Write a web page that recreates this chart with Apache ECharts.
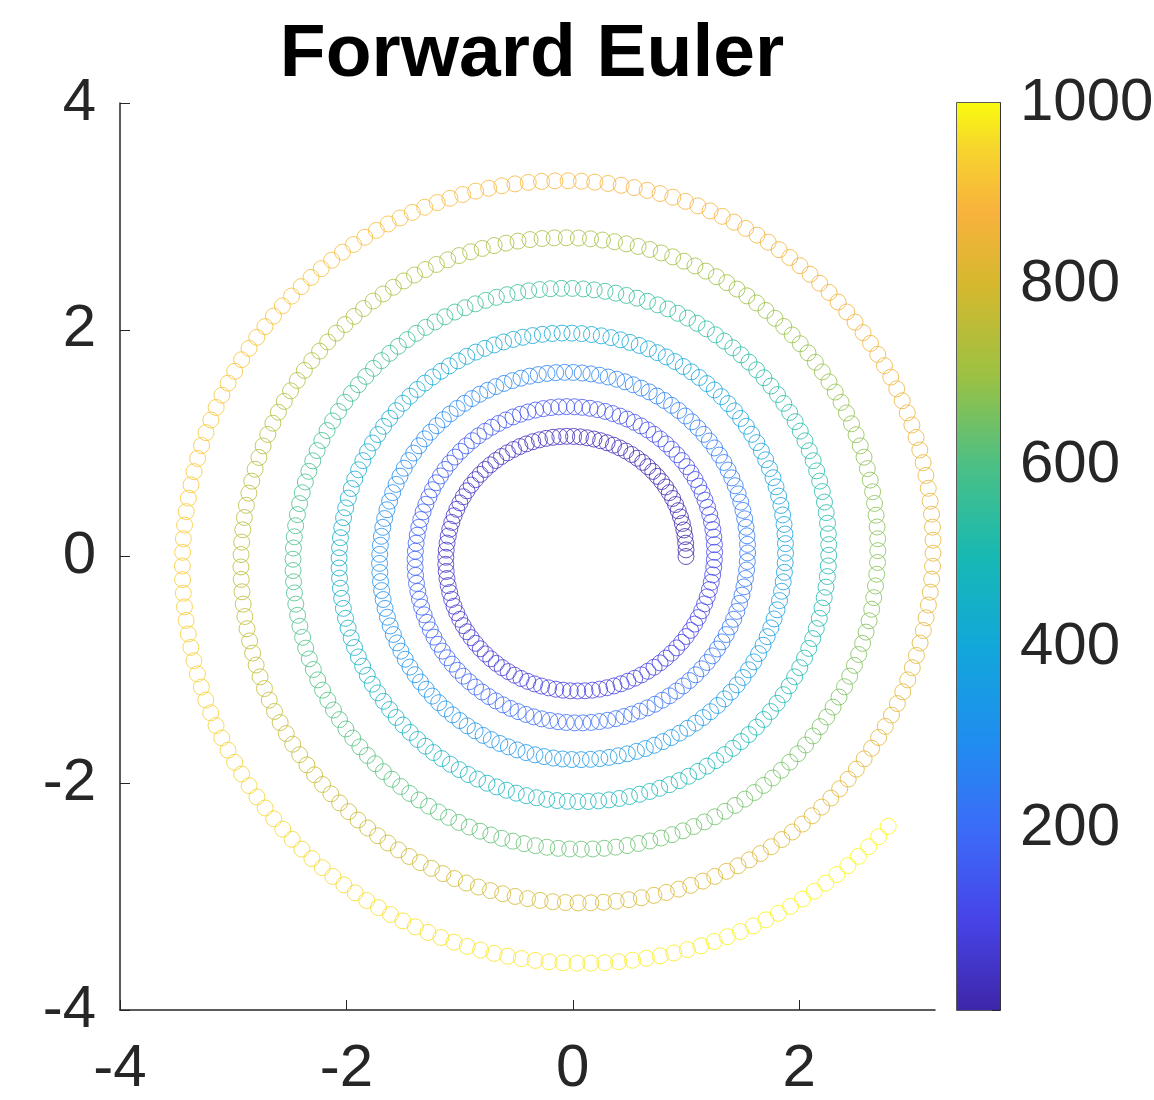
<!DOCTYPE html>
<html>
<head>
<meta charset="utf-8">
<title>Forward Euler</title>
<script src="https://cdn.jsdelivr.net/npm/echarts@6/dist/echarts.min.js"></script>
<style>
  html, body { margin: 0; background: #fff; }
  #chart { width: 1154px; height: 1100px; }
</style>
</head>
<body>
<div id="chart"></div>
<script>
// values: start of the spiral, step size, how the step
// grows with radius, and the drift outward
const startPoint = [1.0, 0.0]
const stepSize = [0.0587]
const stepGrowth = [0.58]
const outwardDrift = [0.0078]
const stepCount = [1000]
const xTicks = [-4, -2, 0, 2]
const yTicks = [-4, -2, 0, 2, 4]
const barTicks = [200, 400, 600, 800, 1000]

// parula colormap
const parula = [
  [0.00, '#3e26a8'], [0.10, '#4744e8'], [0.20, '#3b6cf8'], [0.30, '#1f8eef'],
  [0.40, '#12a7da'], [0.50, '#17b9b3'], [0.60, '#4bc085'], [0.70, '#9cc142'],
  [0.80, '#d6b82e'], [0.88, '#f8b23d'], [0.95, '#f6d52d'], [1.00, '#f9fb0e']
]

const hexToRgb = h => [1, 3, 5].map(i => parseInt(h.slice(i, i + 2), 16))
const parulaColor = t => {
  for (let i = 1; i < parula.length; i++) {
    if (t <= parula[i][0]) {
      const [t0, c0] = parula[i - 1], [t1, c1] = parula[i]
      const f = (t - t0) / (t1 - t0)
      const a = hexToRgb(c0), b = hexToRgb(c1)
      return 'rgb(' + a.map((v, j) => Math.round(v + (b[j] - v) * f)).join(',') + ')'
    }
  }
  return parula[parula.length - 1][1]
}

// forward Euler steps of the spiral
const points = []
let x = startPoint[0], y = startPoint[1]
const h = stepSize[0], q = stepGrowth[0], k = outwardDrift[0], n = stepCount[0]
for (let i = 1; i <= n; i++) {
  points.push({ value: [x, y, i], itemStyle: { borderColor: parulaColor((i - 1) / (n - 1)) } })
  const r = Math.hypot(x, y)
  const speed = Math.pow(r, q - 1)
  const dx = speed * (-y + k * x)
  const dy = speed * (x + k * y)
  x += h * dx
  y += h * dy
}

const ink = '#262626'
const font = 'Liberation Sans, Arial, Helvetica, sans-serif'

const chart = echarts.init(document.getElementById('chart'))
chart.setOption({
  animation: false,
  backgroundColor: '#fff',
  title: {
    text: 'Forward Euler',
    left: 527,
    top: 13,
    textAlign: 'center',
    textStyle: { fontSize: 75, fontWeight: 'bold', color: '#000', fontFamily: font }
  },
  grid: [
    { left: 120, top: 103, width: 815, height: 907, outerBoundsMode: 'none' },
    { left: 957, top: 103, width: 43, height: 907, outerBoundsMode: 'none',
      show: true, borderColor: ink, borderWidth: 1.5 }
  ],
  xAxis: [
    {
      gridIndex: 0, type: 'value', min: -4, max: 3.2, interval: 2,
      axisLine: { show: true, onZero: false, lineStyle: { color: ink, width: 1.5 } },
      axisTick: { show: true, inside: true, length: 10, lineStyle: { color: ink } },
      axisLabel: {
        margin: 29, fontSize: 60, color: ink, fontFamily: font,
        showMaxLabel: false,
        formatter: v => xTicks.includes(v) ? String(v) : ''
      },
      splitLine: { show: false }
    },
    { gridIndex: 1, type: 'category', data: ['c'], show: false }
  ],
  yAxis: [
    {
      gridIndex: 0, type: 'value', min: -4, max: 4, interval: 2,
      axisLine: { show: true, onZero: false, lineStyle: { color: ink, width: 1.5 } },
      axisTick: { show: true, inside: true, length: 10, lineStyle: { color: ink } },
      axisLabel: {
        margin: 24, fontSize: 60, color: ink, fontFamily: font,
        formatter: v => yTicks.includes(v) ? String(v) : ''
      },
      splitLine: { show: false }
    },
    {
      gridIndex: 1, type: 'value', position: 'right', min: 0, max: 1000, interval: 200,
      axisLine: { show: true, lineStyle: { color: ink, width: 1.5 } },
      axisTick: { show: true, inside: true, length: 8, lineStyle: { color: ink } },
      axisLabel: {
        margin: 20, fontSize: 60, color: ink, fontFamily: font,
        formatter: v => barTicks.includes(v) ? String(v) : ''
      },
      splitLine: { show: false }
    }
  ],
  series: [
    {
      type: 'scatter',
      xAxisIndex: 0, yAxisIndex: 0,
      symbol: 'circle',
      symbolSize: 16,
      itemStyle: { color: 'rgba(0,0,0,0)', borderWidth: 1 },
      data: points
    },
    {
      type: 'bar',
      xAxisIndex: 1, yAxisIndex: 1,
      barWidth: '100%',
      data: [barTicks[barTicks.length - 1]],
      itemStyle: {
        color: new echarts.graphic.LinearGradient(0, 1, 0, 0,
          parula.map(([offset, color]) => ({ offset, color })))
      },
      z: 1
    }
  ]
})
</script>
</body>
</html>
